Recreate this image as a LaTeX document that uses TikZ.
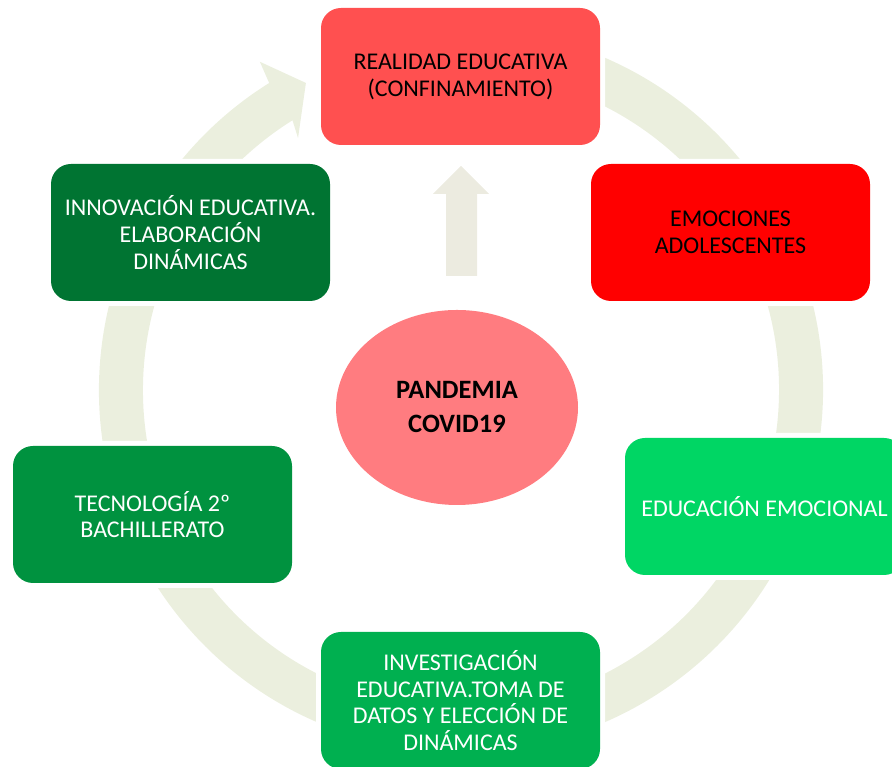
\documentclass[tikz,border=0pt]{standalone}
\usepackage{fontspec}
\usetikzlibrary{shapes.geometric}
\setmainfont{Carlito}
\definecolor{ringc}{RGB}{235,239,222}
\definecolor{arrc}{RGB}{236,235,224}
\definecolor{cRealidad}{RGB}{255,80,80}
\definecolor{cEmociones}{RGB}{255,0,0}
\definecolor{cEducacion}{RGB}{0,214,100}
\definecolor{cInvest}{RGB}{0,176,80}
\definecolor{cTecno}{RGB}{0,146,63}
\definecolor{cInnov}{RGB}{0,116,50}
\definecolor{cCovid}{RGB}{255,124,128}
\begin{document}
\begin{tikzpicture}[x=1pt,y=1pt,
  box/.style={rectangle, rounded corners=20pt, minimum width=279pt, minimum height=137pt,
    align=center, inner sep=0pt, preaction={draw=white, line width=10pt},
    font=\fontsize{24}{26.8}\selectfont},
  darktext/.style={text=black},
  lighttext/.style={text=white}]
\useasboundingbox (0,0) rectangle (892,767);
\clip (0,0) rectangle (892,767);
\coordinate (c) at (461,377);
% cycle ring with arrow head
\fill[ringc] ([shift={(c)}]77:362pt) arc[start angle=77, end angle=-238, radius=362pt]
  -- ([shift={(c)}]-238.5:385pt) -- ([shift={(c)}]-243.2:344pt)
  -- ([shift={(c)}]-237.1:300pt) -- ([shift={(c)}]-238:318pt)
  arc[start angle=-238, end angle=77, radius=318pt] -- cycle;
% central up arrow
\fill[arrc] (446,491) -- (446,573) -- (433,573) -- (461,601) -- (489,573) -- (477,573) -- (477,491) -- cycle;
% centre ellipse
\node[ellipse, fill=cCovid, minimum width=242pt, minimum height=195pt, inner sep=0pt,
  align=center, font=\fontsize{26.5}{34}\selectfont\bfseries] (covid) at (457,359.5) {PANDEMIA\\COVID19};
% boxes
\node[box, fill=cRealidad, darktext] (realidad) at (460.5,690.5) {REALIDAD EDUCATIVA\\(CONFINAMIENTO)};
\node[box, fill=cEmociones, darktext] (emociones) at (730.5,534.5) {EMOCIONES\\ADOLESCENTES};
\node[box, fill=cEducacion, lighttext] (educacion) at (764.5,260.5) {EDUCACIÓN EMOCIONAL};
\node[box, fill=cInvest, lighttext] (invest) at (460.5,66.5) {INVESTIGACIÓN\\EDUCATIVA.TOMA DE\\DATOS Y ELECCIÓN DE\\DINÁMICAS};
\node[box, fill=cTecno, lighttext] (tecno) at (152.5,252.5) {TECNOLOGÍA 2º\\BACHILLERATO};
\node[box, fill=cInnov, lighttext] (innov) at (190.5,534.5) {INNOVACIÓN EDUCATIVA.\\ELABORACIÓN\\DINÁMICAS};
\end{tikzpicture}
\end{document}
